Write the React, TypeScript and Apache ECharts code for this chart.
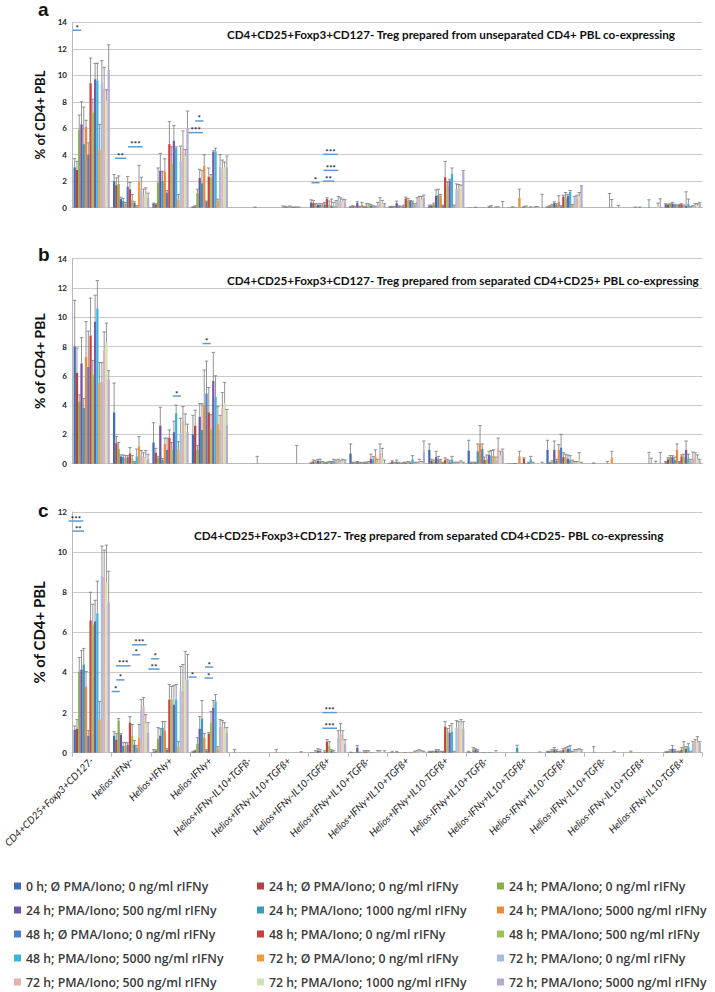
import React, { useEffect, useRef } from "react";
import * as echarts from "echarts";

const categories = [
  "CD4+CD25+Foxp3+CD127-",
  "Helios+IFNy-",
  "Helios+IFNy+",
  "Helios-IFNy+",
  "Helios+IFNy-IL10+TGFß-",
  "Helios+IFNy-IL10+TGFß+",
  "Helios+IFNy-IL10-TGFß+",
  "Helios+IFNy+IL10+TGFß-",
  "Helios+IFNy+IL10+TGFß+",
  "Helios+IFNy+IL10-TGFß+",
  "Helios-IFNy+IL10+TGFß-",
  "Helios-IFNy+IL10+TGFß+",
  "Helios-IFNy+IL10-TGFß+",
  "Helios-IFNy-IL10+TGFß-",
  "Helios-IFNy-IL10+TGFß+",
  "Helios-IFNy-IL10-TGFß+",
];

const seriesNames = [
  "0 h; Ø PMA/Iono; 0 ng/ml rIFNy",
  "24 h; Ø PMA/Iono; 0 ng/ml rIFNy",
  "24 h; PMA/Iono; 0 ng/ml rIFNy",
  "24 h; PMA/Iono; 500 ng/ml rIFNy",
  "24 h; PMA/Iono; 1000 ng/ml rIFNy",
  "24 h; PMA/Iono; 5000 ng/ml rIFNy",
  "48 h; Ø PMA/Iono; 0 ng/ml rIFNy",
  "48 h; PMA/Iono; 0 ng/ml rIFNy",
  "48 h; PMA/Iono; 500 ng/ml rIFNy",
  "48 h; PMA/Iono; 1000 ng/ml rIFNy",
  "48 h; PMA/Iono; 5000 ng/ml rIFNy",
  "72 h; Ø PMA/Iono; 0 ng/ml rIFNy",
  "72 h; PMA/Iono; 0 ng/ml rIFNy",
  "72 h; PMA/Iono; 500 ng/ml rIFNy",
  "72 h; PMA/Iono; 1000 ng/ml rIFNy",
  "72 h; PMA/Iono; 5000 ng/ml rIFNy",
];

const seriesColors = [
  "#3F6DB0", "#B5433F", "#86AE4A", "#6E54A0", "#3A9BB8", "#EE8A35",
  "#4A80C6", "#C9403C", "#9CC25A", "#7A5AA8", "#3DB4D8", "#F7983F",
  "#A8BDE2", "#E5B1AF", "#D3E2B2", "#B9A8D2",
];

// legend columns (series indices); "48 h; PMA/Iono; 1000" is not listed in the legend
const legendColumns = [
  [0, 3, 6, 10, 13],
  [1, 4, 7, 11, 14],
  [2, 5, 8, 12, 15],
];

// ---------- Panel a ----------
const panelAValues = [
  [3.05, 2.85, 5.9, 6.3, 4.8, 6.1, 4.0, 9.4, 7.2, 9.7, 9.6, 4.4, 9.4, 9.0, 8.1, 10.4],
  [2.0, 1.7, 1.8, 0.65, 0.5, 0.3, 1.6, 1.4, 0.6, 0.35, 0.1, 2.0, 1.3, 0.9, 1.0, 0.75],
  [0.3, 0.25, 1.9, 2.8, 2.0, 2.7, 1.15, 4.8, 3.35, 5.05, 4.5, 0.6, 3.5, 4.55, 3.9, 6.0],
  [0.05, 0.1, 1.1, 2.25, 1.85, 3.15, 0.45, 2.35, 2.3, 4.2, 4.25, 0.55, 3.05, 2.9, 3.05, 3.05],
  [0, 0, 0, 0, 0, 0, 0, 0, 0, 0, 0.02, 0, 0, 0, 0, 0],
  [0, 0, 0, 0, 0, 0.03, 0.05, 0.02, 0.05, 0.02, 0.03, 0.02, 0.02, 0, 0, 0],
  [0.4, 0.35, 0.15, 0.2, 0.2, 0.2, 0.25, 0.65, 0.2, 0.15, 0.1, 0.15, 0.55, 0.45, 0.4, 0.4],
  [0.05, 0.1, 0.05, 0.35, 0.05, 0.2, 0.05, 0.1, 0.2, 0.15, 0.1, 0.05, 0.2, 0.4, 0.3, 0.2],
  [0.05, 0.05, 0.05, 0.35, 0.1, 0.05, 0.1, 0.7, 0.55, 0.5, 0.45, 0.2, 0.45, 0.7, 0.6, 0.75],
  [0.15, 0.15, 0.25, 0.9, 0.95, 0.9, 0.15, 2.3, 1.65, 2.05, 2.55, 0.15, 1.4, 1.45, 1.6, 2.7],
  [0.02, 0.02, 0.02, 0.02, 0.02, 0.02, 0.02, 0.02, 0.02, 0.05, 0.05, 0.02, 0.02, 0.02, 0.02, 0.02],
  [0.02, 0.02, 0.05, 0.02, 0.02, 0.75, 0.02, 0.05, 0.1, 0.02, 0.05, 0.02, 0.05, 0.05, 0.02, 0.02],
  [0.05, 0.1, 0.15, 0.35, 0.2, 0.45, 0.1, 0.85, 0.7, 0.9, 1.2, 0.2, 0.8, 0.75, 0.85, 1.6],
  [0, 0, 0, 0, 0, 0, 0, 0, 0, 0, 0.02, 0.02, 0, 0, 0.02, 0],
  [0, 0, 0, 0, 0.02, 0, 0.02, 0, 0, 0, 0.05, 0, 0, 0, 0.05, 0.02],
  [0.25, 0.2, 0.25, 0.3, 0.2, 0.15, 0.2, 0.25, 0.15, 0.15, 0.3, 0.05, 0.1, 0.2, 0.2, 0.3],
];
const panelAErrors = [
  [0.65, 0.65, 1.1, 1.7, 2.8, 0.5, 0.9, 1.9, 1.0, 1.2, 1.3, 1.9, 1.7, 1.6, 0.8, 1.9],
  [0.5, 0.55, 0.6, 0.15, 0.2, 0.1, 0.75, 0.5, 0.4, 0.1, 0.05, 1.2, 1.0, 0.5, 0.5, 0.35],
  [0.05, 0.05, 1.1, 1.3, 0.75, 1.0, 0.15, 1.7, 1.25, 1.15, 0.1, 0.4, 1.15, 1.25, 0.5, 1.3],
  [0.02, 0.05, 0.3, 0.65, 0.95, 0.85, 0.05, 0.65, 0.2, 0.1, 0.25, 0.1, 0.95, 0.7, 0.4, 0.85],
  [0, 0, 0, 0, 0, 0, 0, 0, 0, 0, 0.03, 0, 0, 0, 0, 0],
  [0, 0, 0, 0, 0, 0.1, 0.05, 0.03, 0.08, 0.03, 0.02, 0.03, 0.03, 0, 0, 0],
  [0.2, 0.2, 0.15, 0.1, 0.1, 0.1, 0.15, 0.1, 0.3, 0.5, 0.3, 0.4, 0.3, 0.3, 0.25, 0.2],
  [0.05, 0.05, 0.05, 0.1, 0.05, 0.2, 0.05, 0.2, 0.1, 0.1, 0.05, 0.05, 0.2, 0.35, 0.25, 0.1],
  [0.05, 0.05, 0.05, 0.15, 0.05, 0.05, 0.1, 0.1, 0.15, 0.05, 0.05, 0.1, 0.3, 0.15, 0.25, 0.2],
  [0.05, 0.05, 0.1, 0.45, 0.45, 0.1, 0.05, 1.2, 0.3, 0.1, 0.45, 0.05, 0.4, 0.3, 0.1, 0.1],
  [0, 0, 0, 0.02, 0, 0, 0, 0, 0, 0.05, 0.1, 0, 0.03, 0.05, 0, 0.45],
  [0, 0, 0.02, 0, 0, 0.65, 0, 0.05, 0.03, 0, 0.02, 0, 0.03, 0.03, 0, 1.0],
  [0.02, 0.05, 0.1, 0.1, 0.1, 0.45, 0.05, 0.1, 0.45, 0.1, 0.1, 0.05, 0.05, 0.2, 0.3, 0.05],
  [0, 0, 0, 0, 0, 0, 0, 0, 0, 0, 1.05, 0.6, 0, 0, 0.15, 0],
  [0, 0, 0, 0, 0.03, 0, 0.03, 0, 0, 0, 0.55, 0, 0, 0, 0.3, 0.65],
  [0.05, 0.05, 0.05, 0.1, 0.05, 0.05, 0.05, 0.05, 0.05, 1.05, 0.35, 0.05, 0.05, 0.1, 0.1, 0.1],
];
// significance marks: c = category position (fractional), y = value of the underline
const panelAMarks = [
  { c: -0.37, y: 13.4, t: "*" },
  { c: 0.73, y: 3.73, t: "**" },
  { c: 1.11, y: 4.6, t: "***" },
  { c: 2.64, y: 5.67, t: "***" },
  { c: 2.73, y: 6.55, t: "*" },
  { c: 5.68, y: 1.89, t: "*" },
  { c: 6.01, y: 2.0, t: "**" },
  { c: 6.07, y: 2.82, t: "***" },
  { c: 6.06, y: 4.03, t: "***" },
];

// ---------- Panel b ----------
const panelBValues = [
  [8.0, 6.2, 4.25, 6.85, 3.8, 7.3, 6.6, 8.75, 6.1, 9.7, 10.6, 5.55, 5.6, 7.75, 8.25, 5.75],
  [3.5, 1.4, 1.0, 0.5, 0.45, 0.4, 0.45, 0.7, 0.35, 0.1, 0.5, 1.2, 0.55, 0.45, 0.35, 0.3],
  [1.45, 0.75, 0.4, 2.6, 0.25, 1.35, 0.95, 1.75, 0.95, 2.15, 3.45, 0.95, 2.05, 2.95, 2.6, 2.15],
  [2.0, 2.6, 0.95, 3.2, 2.3, 4.05, 4.8, 3.5, 2.35, 5.65, 4.55, 2.7, 2.3, 3.8, 4.15, 2.65],
  [0, 0, 0, 0, 0, 0, 0, 0, 0, 0, 0, 0, 0, 0, 0, 0],
  [0, 0, 0, 0, 0, 0, 0, 0, 0, 0, 0, 0, 0, 0, 0, 0],
  [0.05, 0.15, 0.1, 0.2, 0.15, 0.1, 0.05, 0.05, 0.1, 0.1, 0.2, 0.15, 0.2, 0.15, 0.2, 0.15],
  [0.7, 0.05, 0.05, 0.1, 0.05, 0.02, 0.05, 0.05, 0.1, 0.35, 0.3, 0.5, 0.1, 0.75, 0.35, 0.05],
  [0.02, 0.15, 0.05, 0.1, 0.05, 0.02, 0.05, 0.05, 0.1, 0.05, 0.3, 0.05, 0.05, 0.2, 0.1, 0.8],
  [0.95, 0.2, 0.15, 0.45, 0.3, 0.2, 0.05, 0.25, 0.2, 0.1, 0.3, 0.05, 0.05, 0.05, 0.1, 0.05],
  [0.9, 0.05, 0.05, 0.05, 0.85, 1.35, 1.0, 0.25, 0.3, 0.6, 0.55, 0.55, 0.25, 1.1, 0.55, 0.85],
  [0.02, 0.02, 0.05, 0.05, 0.02, 0.5, 0.02, 0.35, 0.02, 0.05, 0.3, 0.05, 0.05, 0.05, 0.05, 0.05],
  [0.95, 0.05, 0.1, 0.95, 0.2, 0.95, 1.1, 0.45, 0.45, 0.35, 0.25, 0.15, 0.1, 0.1, 0.3, 0.05],
  [0, 0, 0, 0, 0, 0, 0, 0, 0, 0, 0, 0.4, 0, 0, 0, 0],
  [0, 0, 0, 0, 0, 0, 0, 0, 0, 0, 0.02, 0.02, 0, 0.02, 0, 0.02],
  [0.1, 0.3, 0.45, 0.45, 0.25, 0.95, 0.1, 0.5, 0.45, 0.95, 0.35, 0.2, 0.3, 0.45, 0.3, 0.2],
];
const panelBErrors = [
  [3.15, 1.7, 0.45, 1.75, 0.65, 2.4, 2.45, 2.55, 0.95, 1.8, 1.9, 1.35, 1.3, 1.25, 1.35, 0.6],
  [2.0, 0.45, 0.45, 0.1, 0.15, 0.15, 0.1, 0.4, 0.2, 0.05, 0.5, 0.65, 0.35, 0.3, 0.55, 0.35],
  [1.35, 0.3, 0.1, 1.25, 0.1, 0.4, 0.8, 0.55, 0.5, 0.75, 0.55, 0.55, 1.05, 0.95, 0.8, 0.55],
  [1.3, 1.05, 0.3, 0.9, 1.8, 2.35, 2.2, 1.7, 1.0, 1.95, 1.45, 1.2, 1.0, 1.05, 1.4, 1.05],
  [0, 0, 0, 0, 0, 0, 0, 0, 0, 0, 0, 0.5, 0, 0, 0, 0],
  [0, 0, 0, 0, 0, 0, 0, 0, 0, 0, 0, 1.25, 0, 0, 0, 0],
  [0.05, 0.1, 0.1, 0.1, 0.15, 0.05, 0.05, 0.05, 0.05, 0.05, 0.1, 0.1, 0.1, 0.05, 0.1, 0.1],
  [0.65, 0.05, 0.05, 0.05, 0.05, 0.05, 0.05, 0.05, 0.05, 0.3, 0.2, 0.45, 0.2, 0.6, 0.7, 0.2],
  [0.02, 0.05, 0.05, 0.15, 0.05, 0.02, 0.05, 0.05, 0.05, 0.05, 0.25, 0.05, 0.05, 0.1, 0.05, 0.75],
  [0.4, 0.1, 0.1, 0.4, 0.2, 0.1, 0.05, 0.15, 0.1, 0.1, 0.2, 0.05, 0.05, 0.05, 0.1, 0.05],
  [0.7, 0.05, 0.05, 0.05, 0.5, 1.25, 0.35, 0.2, 0.3, 0.25, 0.35, 0.4, 0.2, 0.65, 0.3, 0.15],
  [0, 0, 0, 0, 0, 0.35, 0, 0.05, 0, 0.05, 0.2, 0.05, 0, 0, 0, 0.05],
  [0.65, 0.05, 0.1, 0.6, 0.1, 0.35, 0.9, 0.3, 0.2, 0.25, 0.3, 0.1, 0.05, 0.05, 0.45, 0.05],
  [0, 0, 0, 0.05, 0, 0, 0, 0, 0, 0.15, 0, 0.45, 0, 0, 0, 0],
  [0, 0, 0, 0, 0, 0, 0, 0, 0, 0, 0.75, 0.35, 0, 0.15, 0, 0.75],
  [0.05, 0.1, 0.1, 0.1, 0.2, 0.4, 0.05, 0.1, 0.2, 0.6, 0.3, 0.1, 0.5, 0.3, 0.3, 0.1],
];
const panelBMarks = [
  { c: 2.16, y: 4.62, t: "*" },
  { c: 2.92, y: 8.2, t: "*" },
];

// ---------- Panel c ----------
const panelCValues = [
  [1.15, 1.2, 4.05, 4.15, 4.4, 3.3, 0.85, 6.6, 6.4, 6.55, 6.95, 1.65, 8.8, 8.75, 8.5, 7.5],
  [0.85, 0.65, 1.6, 0.9, 0.35, 0.35, 0.4, 1.5, 0.85, 0.4, 0.25, 0.75, 2.15, 2.3, 1.45, 1.0],
  [0.05, 0.1, 0.7, 0.85, 1.25, 1.1, 0.15, 2.65, 2.65, 2.4, 2.65, 0.3, 3.05, 3.1, 3.6, 3.65],
  [0.05, 0.1, 0.45, 1.2, 1.7, 0.75, 0.1, 0.95, 1.5, 2.25, 2.55, 0.2, 1.3, 1.3, 1.2, 1.0],
  [0, 0, 0, 0, 0, 0, 0, 0, 0, 0, 0, 0, 0, 0, 0, 0],
  [0, 0, 0, 0, 0, 0, 0, 0, 0, 0, 0, 0, 0, 0, 0, 0],
  [0.02, 0.02, 0.05, 0.1, 0.1, 0.02, 0.05, 0.55, 0.35, 0.1, 0.05, 0.02, 0.75, 0.95, 0.65, 0.45],
  [0.05, 0.02, 0.02, 0.25, 0.05, 0.02, 0.05, 0.05, 0.05, 0.02, 0.02, 0.02, 0.05, 0.05, 0.02, 0.05],
  [0.02, 0.02, 0.02, 0.02, 0.02, 0.02, 0.02, 0.02, 0.02, 0.02, 0.02, 0.02, 0.05, 0.1, 0.05, 0.05],
  [0.05, 0.05, 0.05, 0.1, 0.1, 0.05, 0.05, 1.3, 1.1, 1.0, 1.05, 0.05, 1.25, 1.2, 1.35, 1.2],
  [0.05, 0.02, 0.15, 0.15, 0.1, 0.02, 0.02, 0.02, 0.02, 0.02, 0.02, 0.02, 0.05, 0.02, 0.02, 0.02],
  [0, 0, 0, 0, 0.25, 0, 0, 0, 0, 0, 0, 0, 0, 0, 0.02, 0],
  [0.05, 0.05, 0.1, 0.15, 0.1, 0.05, 0.05, 0.15, 0.15, 0.2, 0.2, 0.05, 0.1, 0.1, 0.15, 0.1],
  [0, 0, 0, 0, 0, 0, 0, 0, 0, 0, 0, 0, 0.02, 0, 0, 0],
  [0, 0, 0.05, 0, 0, 0, 0, 0, 0, 0, 0, 0, 0, 0, 0, 0],
  [0.02, 0.05, 0.1, 0.2, 0.1, 0.05, 0.05, 0.15, 0.35, 0.2, 0.3, 0.05, 0.45, 0.55, 0.5, 0.5],
];
const panelCErrors = [
  [0.18, 0.45, 0.7, 0.95, 0.8, 0.75, 0.25, 1.4, 1.0, 1.05, 1.6, 0.9, 1.5, 1.35, 1.85, 1.55],
  [0.2, 0.3, 0.1, 0.05, 0.15, 0.15, 0.1, 0.3, 0.55, 0.2, 0.1, 0.65, 0.5, 0.45, 0.45, 0.5],
  [0.1, 0.05, 0.55, 0.35, 0.3, 0.45, 0.05, 0.75, 0.65, 0.95, 0.75, 0.25, 1.25, 1.3, 1.45, 1.25],
  [0.02, 0.02, 0.3, 0.6, 0.9, 0.2, 0.05, 0.05, 0.55, 0.35, 0.35, 0.1, 0.35, 0.3, 0.3, 0.25],
  [0, 0.17, 0, 0, 0, 0, 0, 0, 0, 0, 0, 0, 0, 0, 0, 0],
  [0, 0, 0.15, 0, 0, 0, 0, 0, 0, 0, 0, 0, 0, 0.05, 0, 0],
  [0, 0, 0.05, 0.1, 0.05, 0, 0.05, 0.1, 0.2, 0.05, 0.05, 0, 0.35, 0.5, 0.45, 0.2],
  [0, 0, 0, 0.1, 0, 0, 0.05, 0.05, 0.05, 0, 0, 0, 0.05, 0.05, 0, 0.05],
  [0, 0.05, 0, 0.05, 0, 0, 0, 0, 0, 0, 0, 0.05, 0.05, 0.05, 0.05, 0.02],
  [0.02, 0.02, 0.02, 0.05, 0.05, 0.02, 0.02, 0.25, 0.1, 0.35, 0.4, 0.02, 0.35, 0.35, 0.3, 0.35],
  [0.02, 0, 0.1, 0.05, 0.05, 0, 0, 0, 0, 0, 0, 0, 0.05, 0, 0, 0],
  [0, 0, 0, 0, 0.12, 0, 0, 0, 0, 0, 0, 0, 0, 0, 0.02, 0],
  [0.02, 0.02, 0.05, 0.1, 0.05, 0.02, 0.02, 0.05, 0.1, 0.1, 0.15, 0.02, 0.05, 0.05, 0.05, 0.05],
  [0, 0, 0, 0.3, 0, 0, 0, 0, 0, 0, 0, 0, 0.05, 0, 0, 0],
  [0, 0, 0.03, 0, 0, 0, 0, 0, 0, 0, 0, 0, 0, 0, 0, 0],
  [0.02, 0.02, 0.05, 0.15, 0.05, 0.02, 0.02, 0.1, 0.2, 0.1, 0.15, 0.02, 0.1, 0.1, 0.3, 0.05],
];
const panelCMarks = [
  { c: -0.4, y: 11.55, t: "***" },
  { c: -0.34, y: 11.05, t: "**" },
  { c: 0.61, y: 3.05, t: "*" },
  { c: 0.73, y: 3.63, t: "*" },
  { c: 0.8, y: 4.33, t: "***" },
  { c: 1.13, y: 4.88, t: "*" },
  { c: 1.21, y: 5.38, t: "***" },
  { c: 1.58, y: 4.17, t: "**" },
  { c: 1.61, y: 4.68, t: "*" },
  { c: 2.56, y: 3.77, t: "*" },
  { c: 2.98, y: 4.27, t: "*" },
  { c: 2.97, y: 3.72, t: "*" },
  { c: 6.04, y: 2.0, t: "***" },
  { c: 6.04, y: 1.22, t: "***" },
];

const panelTitles = [
  "CD4+CD25+Foxp3+CD127- Treg prepared from unseparated CD4+ PBL co-expressing",
  "CD4+CD25+Foxp3+CD127- Treg prepared from separated CD4+CD25+ PBL co-expressing",
  "CD4+CD25+Foxp3+CD127- Treg prepared from separated CD4+CD25- PBL co-expressing",
];
const panelLetters = ["a", "b", "c"];

// layout (pixels)
const layout = [
  { top: 22.3, height: 185.4, max: 14, titleLeft: 227, titleTop: 28, letterTop: 0, nameSize: 13, nameGap: 17 },
  { top: 258.6, height: 205.1, max: 14, titleLeft: 227, titleTop: 274, letterTop: 245, nameSize: 14, nameGap: 22 },
  { top: 512, height: 240.7, max: 12, titleLeft: 194, titleTop: 529, letterTop: 501, nameSize: 15, nameGap: 24 },
];

const NS = 16;
const GAP = 0.08;
const FONT = "Lato, 'Open Sans', sans-serif";

const panels = [
  { vals: panelAValues, errs: panelAErrors, marks: panelAMarks },
  { vals: panelBValues, errs: panelBErrors, marks: panelBMarks },
  { vals: panelCValues, errs: panelCErrors, marks: panelCMarks },
];

function buildOption() {
  const grid: any[] = [];
  const xAxis: any[] = [];
  const yAxis: any[] = [];
  const series: any[] = [];
  const title: any[] = [];

  panels.forEach((p, i) => {
    const L = layout[i];
    grid.push({ left: 72, right: 12.6, top: L.top, height: L.height });
    xAxis.push({
      type: "category",
      gridIndex: i,
      data: categories,
      axisLine: { lineStyle: { color: "#b8b8b8", width: 1 } },
      axisTick: i === 2 ? { show: true, length: 4, lineStyle: { color: "#b8b8b8" } } : { show: false },
      axisLabel:
        i === 2
          ? { show: true, interval: 0, rotate: 45, fontStyle: "italic", fontSize: 10, color: "#1a1a1a", fontFamily: FONT, margin: 6 }
          : { show: false },
    });
    yAxis.push({
      type: "value",
      gridIndex: i,
      min: 0,
      max: L.max,
      interval: 2,
      axisLine: { show: true, lineStyle: { color: "#b8b8b8" } },
      axisTick: { show: false },
      splitLine: { lineStyle: { color: "#c9c9c9", width: 1 } },
      axisLabel: { fontSize: 8, fontWeight: "bold", color: "#222", fontFamily: FONT, margin: 5 },
      name: "% of CD4+ PBL",
      nameLocation: "middle",
      nameGap: L.nameGap,
      nameTextStyle: { fontSize: L.nameSize, fontWeight: "bold", color: "#111", fontFamily: FONT },
    });

    for (let s = 0; s < NS; s++) {
      series.push({
        type: "bar",
        name: seriesNames[s],
        xAxisIndex: i,
        yAxisIndex: i,
        data: p.vals.map((row) => row[s]),
        itemStyle: { color: seriesColors[s] },
        barGap: "0%",
        barCategoryGap: GAP * 100 + "%",
        silent: true,
      });
    }

    const errData: number[][] = [];
    p.vals.forEach((row, c) => {
      row.forEach((v, s) => {
        const e = p.errs[c][s];
        if (e > 0) errData.push([c, v, e, s]);
      });
    });
    series.push({
      type: "custom",
      name: "err" + i,
      xAxisIndex: i,
      yAxisIndex: i,
      z: 3,
      silent: true,
      encode: { x: 0, y: 1 },
      data: errData,
      renderItem: (params: any, api: any) => {
        const c = api.value(0);
        const v = api.value(1);
        const e = api.value(2);
        const s = api.value(3);
        const p0 = api.coord([c, v]);
        const p1 = api.coord([c, v + e]);
        const band = api.size([1, 0])[0];
        const usable = band * (1 - GAP);
        const bw = usable / NS;
        const x = p0[0] - usable / 2 + (s + 0.5) * bw;
        const cap = 1.7;
        const st = { stroke: "#7a7a7a", lineWidth: 0.8 };
        return {
          type: "group",
          children: [
            { type: "line", shape: { x1: x, y1: p0[1], x2: x, y2: p1[1] }, style: st },
            { type: "line", shape: { x1: x - cap, y1: p1[1], x2: x + cap, y2: p1[1] }, style: st },
          ],
        };
      },
    });

    const marks = p.marks;
    series.push({
      type: "custom",
      name: "sig" + i,
      xAxisIndex: i,
      yAxisIndex: i,
      z: 4,
      silent: true,
      encode: { x: 0, y: 1 },
      data: marks.map((m) => {
        const ci = Math.max(0, Math.round(m.c));
        return [ci, m.y, m.c - ci];
      }),
      renderItem: (params: any, api: any) => {
        const m = marks[params.dataIndex];
        const ci = api.value(0);
        const y = api.value(1);
        const frac = api.value(2);
        const band = api.size([1, 0])[0];
        const pt = api.coord([ci, y]);
        const x = pt[0] + frac * band;
        const half = m.t.length * 1.6 + 2.5;
        return {
          type: "group",
          children: [
            { type: "line", shape: { x1: x - half, y1: pt[1], x2: x + half, y2: pt[1] }, style: { stroke: "#5B9BD5", lineWidth: 1.5 } },
            {
              type: "text",
              style: {
                text: m.t,
                x: x,
                y: pt[1] - 2.5,
                align: "center",
                verticalAlign: "middle",
                fill: "#222",
                font: "bold 8px Lato",
                lineHeight: 6,
              },
            },
          ],
        };
      },
    });

    title.push({
      text: panelTitles[i],
      left: L.titleLeft,
      top: L.titleTop,
      padding: 0,
      textStyle: { fontSize: 11.7, fontWeight: "bold", color: "#111", fontFamily: FONT },
    });
    title.push({
      text: panelLetters[i],
      left: 38,
      top: L.letterTop,
      padding: 0,
      textStyle: { fontSize: 19, fontWeight: "bold", color: "#111", fontFamily: "'Liberation Sans', Arial, sans-serif" },
    });
  });

  const legendLefts = [14, 257, 497];
  const legend = legendColumns.map((col, k) => ({
    orient: "vertical",
    left: legendLefts[k],
    top: 879,
    width: 215,
    height: 300,
    padding: 0,
    itemWidth: 7,
    itemHeight: 7,
    itemGap: 10,
    icon: "rect",
    selectedMode: false,
    data: col.map((s) => seriesNames[s]),
    textStyle: { fontSize: 12.3, fontWeight: 600, color: "#3a3a3a", fontFamily: "'Open Sans', Lato, sans-serif", lineHeight: 14 },
  }));

  return {
    animation: false,
    backgroundColor: "#ffffff",
    title,
    legend,
    grid,
    xAxis,
    yAxis,
    series,
  };
}

export default function App() {
  const ref = useRef<HTMLDivElement>(null);
  useEffect(() => {
    if (!ref.current) return;
    const chart = echarts.init(ref.current, undefined, { renderer: "svg" });
    chart.setOption(buildOption() as any);
    return () => chart.dispose();
  }, []);
  return <div ref={ref} style={{ position: "absolute", left: 0, top: 0, width: 715, height: 992 }} />;
}
